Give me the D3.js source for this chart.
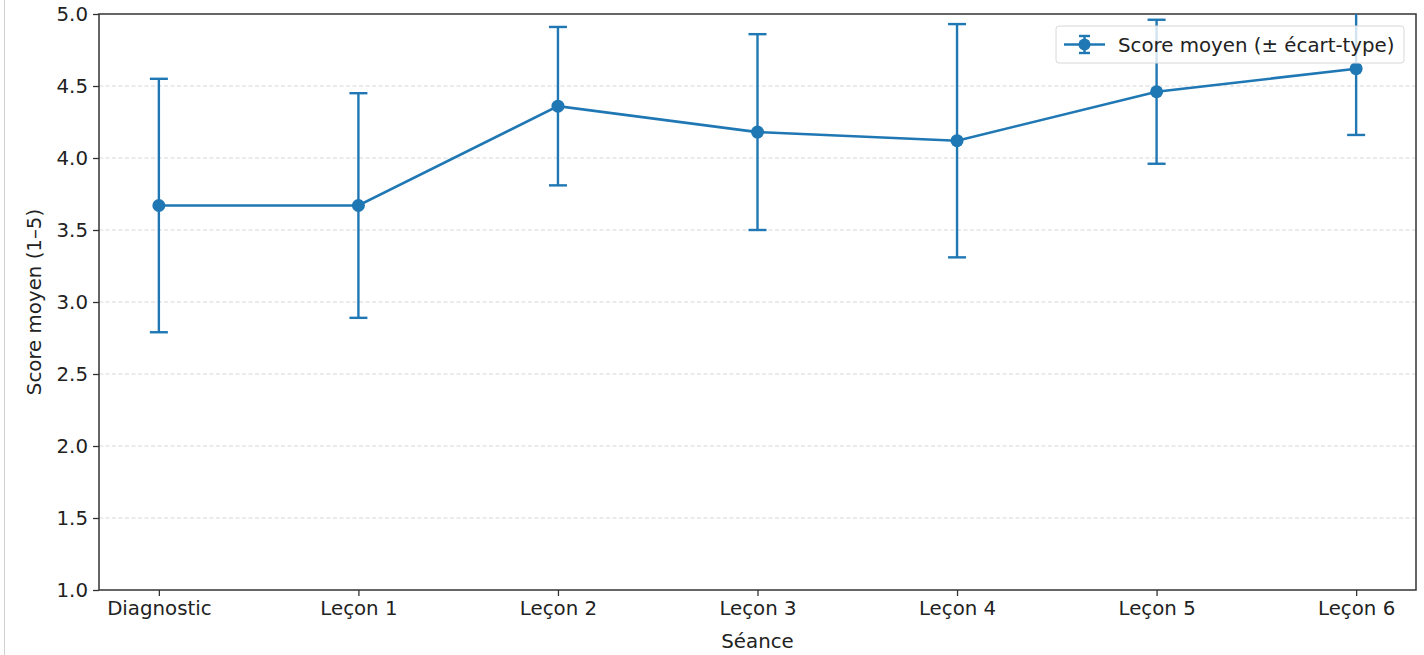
<!DOCTYPE html>
<html>
<head>
<meta charset="utf-8">
<script src="https://cdnjs.cloudflare.com/ajax/libs/d3/7.8.5/d3.min.js"></script>
<style>
  body { margin: 0; background: #fff; }
  svg { display: block; font-family: "DejaVu Sans", sans-serif; }
</style>
</head>
<body>
<div id="chart"></div>
<script>
var width = 1424;
var height = 655;

// data
var seances = ["Diagnostic", "Leçon 1", "Leçon 2", "Leçon 3", "Leçon 4", "Leçon 5", "Leçon 6"];
var moyennes = [3.67, 3.67, 4.36, 4.18, 4.12, 4.46, 4.62];
var ecartsTypes = [0.88, 0.78, 0.55, 0.68, 0.81, 0.50, 0.46];
var yTicks = [1.0, 1.5, 2.0, 2.5, 3.0, 3.5, 4.0, 4.5, 5.0];

var blue = "#1f77b4";
var fontSize = "19.8px";
var margin = {left: 99, right: 8, top: 14, bottom: 65};

var svg = d3.select("#chart")
  .append("svg")
  .attr("width", width)
  .attr("height", height);

// thin border of the screenshot on the left
svg.append("line")
  .attr("x1", 4.5).attr("x2", 4.5)
  .attr("y1", 0).attr("y2", height)
  .attr("stroke", "#d0d0d0")
  .attr("stroke-width", 1);

var x = d3.scalePoint()
  .domain(seances)
  .range([margin.left, width - margin.right])
  .padding(0.3);

var y = d3.scaleLinear()
  .domain([1, 5])
  .range([height - margin.bottom, margin.top]);

var defs = svg.append("defs");
defs.append("clipPath").attr("id", "plot-clip")
  .append("rect")
  .attr("x", margin.left)
  .attr("y", margin.top)
  .attr("width", width - margin.left - margin.right)
  .attr("height", height - margin.top - margin.bottom);

//grid
svg.append("g")
  .selectAll("line")
  .data(yTicks.slice(1, -1))
  .enter().append("line")
  .attr("x1", margin.left).attr("x2", width - margin.right)
  .attr("y1", function(d) { return y(d); })
  .attr("y2", function(d) { return y(d); })
  .attr("stroke", "#d6d6d6")
  .attr("stroke-width", 1)
  .attr("stroke-dasharray", "4,2.5");

//axes
var xAxis = d3.axisBottom(x).tickSize(6).tickPadding(5);
var yAxis = d3.axisLeft(y).tickValues(yTicks).tickFormat(d3.format(".1f")).tickSize(6).tickPadding(5);

var gx = svg.append("g")
  .attr("transform", "translate(0," + (height - margin.bottom) + ")")
  .call(xAxis);
var gy = svg.append("g")
  .attr("transform", "translate(" + margin.left + ",0)")
  .call(yAxis);

[gx, gy].forEach(function(g) {
  g.select(".domain").remove();
  g.selectAll(".tick line").attr("stroke", "#333").attr("stroke-width", 1.3);
  g.selectAll(".tick text")
    .attr("fill", "#222")
    .style("font-size", fontSize)
    .style("font-family", "DejaVu Sans, sans-serif");
});

//frame
svg.append("rect")
  .attr("x", margin.left)
  .attr("y", margin.top)
  .attr("width", width - margin.left - margin.right)
  .attr("height", height - margin.top - margin.bottom)
  .attr("fill", "none")
  .attr("stroke", "#333")
  .attr("stroke-width", 1.5);

//labels
svg.append("text")
  .attr("x", (margin.left + width - margin.right) / 2)
  .attr("y", 648)
  .attr("text-anchor", "middle")
  .attr("fill", "#222")
  .style("font-size", fontSize)
  .text("Séance");

svg.append("text")
  .attr("transform", "translate(41," + y(3) + ") rotate(-90)")
  .attr("text-anchor", "middle")
  .attr("fill", "#222")
  .style("font-size", fontSize)
  .text("Score moyen (1–5)");

//series
var pts = seances.map(function(s, i) {
  return {s: s, m: moyennes[i], sd: ecartsTypes[i]};
});

var plot = svg.append("g").attr("clip-path", "url(#plot-clip)");
var cap = 9;

var eb = plot.selectAll(".eb").data(pts).enter().append("g").attr("class", "eb")
  .attr("stroke", blue).attr("stroke-width", 2.4);
eb.append("line")
  .attr("x1", function(d) { return x(d.s); })
  .attr("x2", function(d) { return x(d.s); })
  .attr("y1", function(d) { return y(d.m - d.sd); })
  .attr("y2", function(d) { return y(d.m + d.sd); });
eb.append("line")
  .attr("x1", function(d) { return x(d.s) - cap; })
  .attr("x2", function(d) { return x(d.s) + cap; })
  .attr("y1", function(d) { return y(d.m - d.sd); })
  .attr("y2", function(d) { return y(d.m - d.sd); });
eb.append("line")
  .attr("x1", function(d) { return x(d.s) - cap; })
  .attr("x2", function(d) { return x(d.s) + cap; })
  .attr("y1", function(d) { return y(d.m + d.sd); })
  .attr("y2", function(d) { return y(d.m + d.sd); });

var line = d3.line()
  .x(function(d) { return x(d.s); })
  .y(function(d) { return y(d.m); });

plot.append("path")
  .datum(pts)
  .attr("d", line)
  .attr("fill", "none")
  .attr("stroke", blue)
  .attr("stroke-width", 2.6);

plot.selectAll(".dot").data(pts).enter().append("circle")
  .attr("class", "dot")
  .attr("cx", function(d) { return x(d.s); })
  .attr("cy", function(d) { return y(d.m); })
  .attr("r", 6.5)
  .attr("fill", blue);

//legend
var lg = svg.append("g").attr("transform", "translate(1056,26)");
lg.append("rect")
  .attr("width", 348).attr("height", 37)
  .attr("rx", 3)
  .attr("fill", "#fff").attr("fill-opacity", 0.8)
  .attr("stroke", "#d8d8d8").attr("stroke-width", 1);
lg.append("line")
  .attr("x1", 8).attr("x2", 49).attr("y1", 18.5).attr("y2", 18.5)
  .attr("stroke", blue).attr("stroke-width", 2.6);
lg.append("line")
  .attr("x1", 28.5).attr("x2", 28.5).attr("y1", 10).attr("y2", 27)
  .attr("stroke", blue).attr("stroke-width", 2.4);
[10, 27].forEach(function(yy) {
  lg.append("line")
    .attr("x1", 23).attr("x2", 34).attr("y1", yy).attr("y2", yy)
    .attr("stroke", blue).attr("stroke-width", 2.4);
});
lg.append("circle").attr("cx", 28.5).attr("cy", 18.5).attr("r", 6).attr("fill", blue);
lg.append("text")
  .attr("x", 62).attr("y", 25.5)
  .attr("fill", "#222")
  .style("font-size", fontSize)
  .text("Score moyen (± écart-type)");
</script>
</body>
</html>
